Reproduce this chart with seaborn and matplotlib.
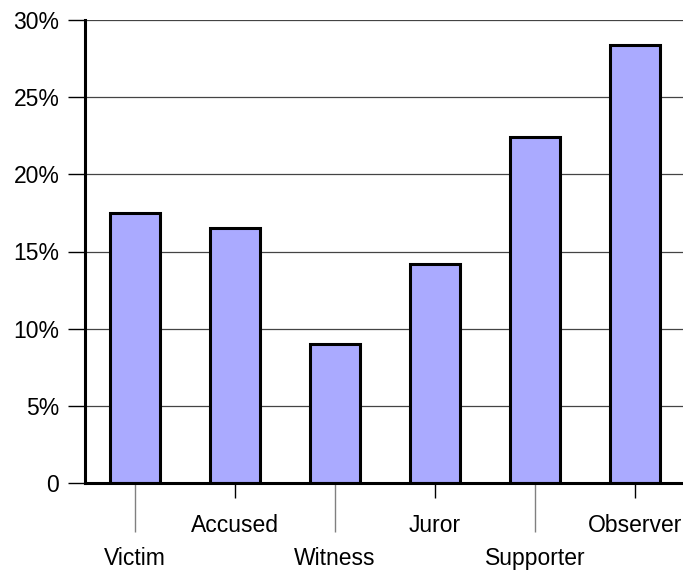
import numpy as np
import matplotlib
matplotlib.use("Agg")
import matplotlib.pyplot as plt
from matplotlib.ticker import FuncFormatter
import seaborn as sns

# data
roles = ["Victim", "Accused", "Witness", "Juror", "Supporter", "Observer"]
shares = [17.5, 16.5, 9.0, 14.2, 22.4, 28.4]
y_ticks = [0, 5, 10, 15, 20, 25, 30]

sns.set_theme(style="white")
plt.rcParams["font.family"] = ["Liberation Sans", "DejaVu Sans"]
plt.rcParams["font.size"] = 16.5
plt.rcParams["text.color"] = "black"
plt.rcParams["xtick.labelcolor"] = "black"
plt.rcParams["ytick.labelcolor"] = "black"

fig = plt.figure(figsize=(6.83, 5.71), dpi=100)
ax = fig.add_axes([85 / 683, 88 / 571, 600 / 683, 463 / 571])

sns.barplot(x=roles, y=shares, color="#aaaaff", saturation=1,
            edgecolor="black", linewidth=2.2, width=0.5, ax=ax)

ax.set_ylim(0, 30)
ax.set_xlim(-0.5, 5.5)
ax.set_yticks(y_ticks)
ax.yaxis.set_major_formatter(FuncFormatter(lambda v, p: "0" if v == 0 else f"{v:.0f}%"))
ax.yaxis.grid(True, color="#444444", linewidth=0.9)
ax.set_axisbelow(True)

# staggered category labels: odd ones high (major), even ones low (minor)
idx = np.arange(len(roles))
ax.set_xticks(idx[1::2], [roles[i] for i in idx[1::2]])
ax.set_xticks(idx[0::2], [roles[i] for i in idx[0::2]], minor=True)
ax.tick_params(axis="x", which="major", length=11, width=1, color="black",
               pad=11.5, labelsize=16.5, labelcolor="black", direction="out", bottom=True)
ax.tick_params(axis="x", which="minor", length=35, width=1, color="#808080",
               pad=11, labelsize=16.5, labelcolor="black", direction="out", bottom=True)
ax.tick_params(axis="y", length=12, width=1, color="black", pad=6.5,
               labelsize=16.5, labelcolor="black", left=True, direction="out")

ax.set_xlabel("")
ax.set_ylabel("")
for side in ["top", "right"]:
    ax.spines[side].set_visible(False)
for side in ["left", "bottom"]:
    ax.spines[side].set_color("black")
    ax.spines[side].set_linewidth(2.2)

fig.savefig("out.png", dpi=100)
